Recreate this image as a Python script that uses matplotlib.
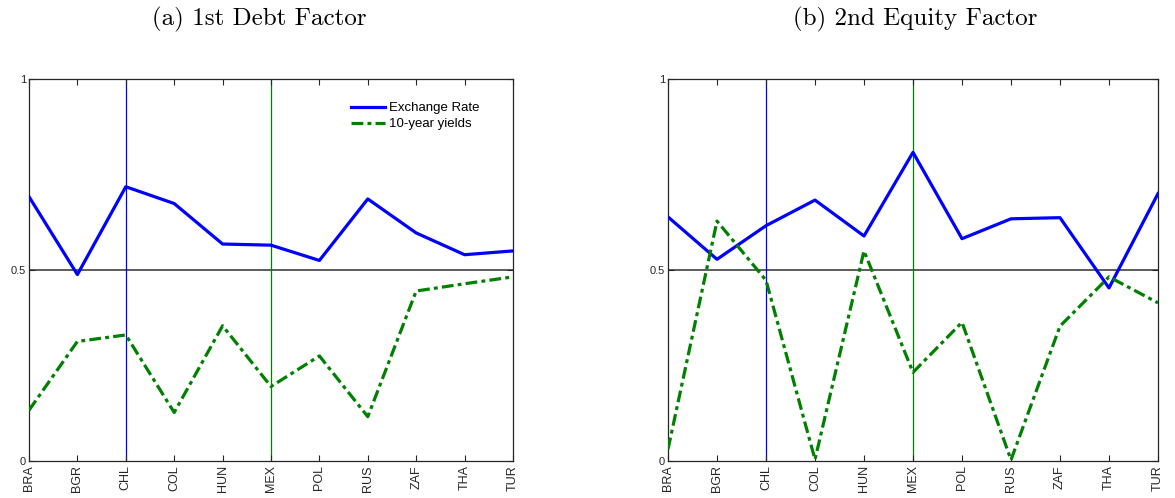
import matplotlib
matplotlib.use("Agg")
import matplotlib.pyplot as plt
import numpy as np

plt.rcParams['font.family'] = ['Liberation Sans', 'DejaVu Sans']
plt.rcParams['lines.scale_dashes'] = False

countries = ['BRA', 'BGR', 'CHL', 'COL', 'HUN', 'MEX', 'POL', 'RUS', 'ZAF', 'THA', 'TUR']

# (a) 1st Debt Factor
debt_fx = [0.692, 0.488, 0.718, 0.674, 0.568, 0.565, 0.525, 0.686, 0.597, 0.540, 0.550]
debt_yld = [0.133, 0.313, 0.330, 0.127, 0.354, 0.195, 0.275, 0.116, 0.445, 0.464, 0.482]

# (b) 2nd Equity Factor
eq_fx = [0.639, 0.528, 0.616, 0.683, 0.589, 0.808, 0.582, 0.634, 0.637, 0.453, 0.700]
eq_yld = [0.031, 0.628, 0.473, 0.004, 0.550, 0.232, 0.363, 0.003, 0.353, 0.482, 0.414]

titles = ['(a) 1st Debt Factor', '(b) 2nd Equity Factor']
series_names = ['Exchange Rate', '10-year yields']

fig = plt.figure(figsize=(11.75, 4.98), dpi=100)
ax1 = fig.add_axes([29/1175, 37/498, 484/1175, 382/498])
ax2 = fig.add_axes([668/1175, 37/498, 490/1175, 382/498])

x = np.arange(len(countries))
spine_col = '#262626'

for ax, fx, yld in [(ax1, debt_fx, debt_yld), (ax2, eq_fx, eq_yld)]:
	ax.axhline(0.5, color='#303030', lw=1.1, zorder=1)
	ax.axvline(x[countries.index('CHL')], color='#0000ff', lw=0.9, zorder=1)
	ax.axvline(x[countries.index('MEX')], color='#008000', lw=0.9, zorder=1)
	ax.plot(x, fx, color='#0000ff', lw=2.3, label=series_names[0], zorder=3)
	ax.plot(x, yld, color='#008000', lw=2.3, dashes=(8.5, 3, 2.8, 3),
			label=series_names[1], zorder=3)
	ax.set_xlim(0, len(countries) - 1)
	ax.set_ylim(0, 1)
	ax.set_xticks(x)
	ax.set_xticklabels(countries, rotation=90, fontsize=9, color='#262626')
	ax.set_yticks([0, 0.5, 1])
	ax.set_yticklabels(['0', '0.5', '1'], fontsize=8, color='#262626')
	ax.tick_params(axis='x', pad=3)
	ax.tick_params(direction='in', length=4, width=0.8, top=True, right=True,
				   colors=spine_col)
	ax.tick_params(axis='y', pad=2)
	for s in ax.spines.values():
		s.set_color(spine_col)
		s.set_linewidth(0.9)

ax1.legend(loc='upper right', frameon=False, fontsize=9.5, handlelength=2.6,
		   handletextpad=0.3, labelspacing=0.3, bbox_to_anchor=(0.956, 0.971))

fig.text(259/1175, 1 - 19/498, titles[0], ha='center', va='center', fontsize=18,
		 family=['cmr10', 'DejaVu Serif'])
fig.text(915/1175, 1 - 19/498, titles[1], ha='center', va='center', fontsize=18,
		 family=['cmr10', 'DejaVu Serif'])

fig.savefig('out.png', dpi=100)
